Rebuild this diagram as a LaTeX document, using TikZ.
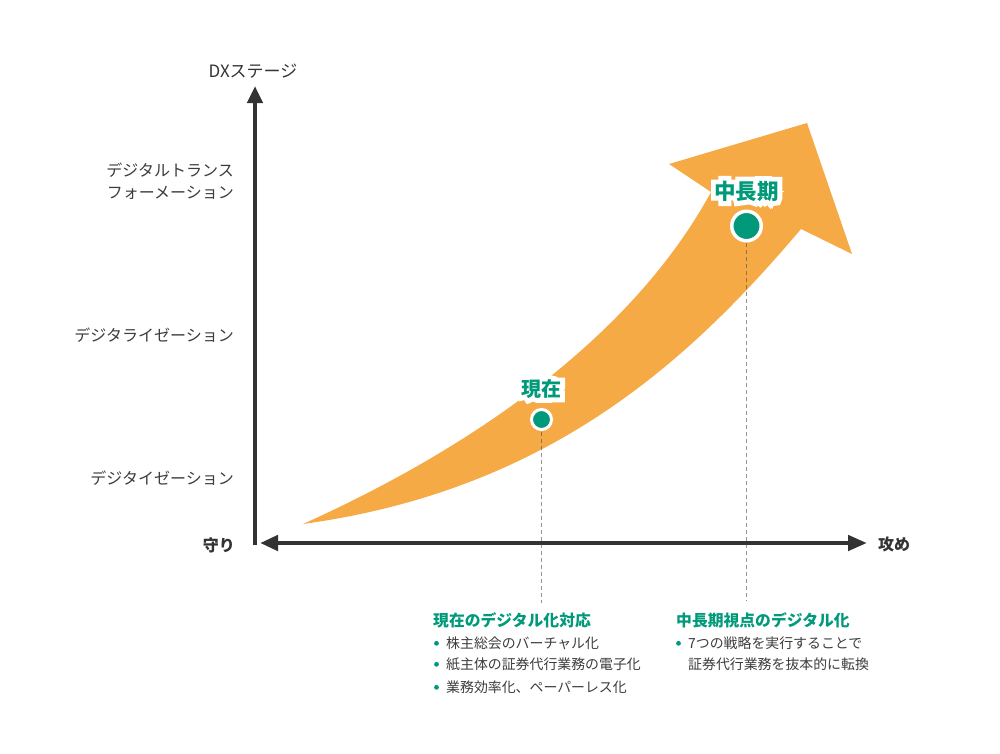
\documentclass[tikz,border=0pt]{standalone}
\usepackage{fontspec}
\setmainfont{Noto Sans CJK JP}
\newfontfamily\halofont{Noto Sans CJK JP}[FakeBold=45]
\usetikzlibrary{arrows.meta,calc}
\definecolor{orng}{HTML}{F5AA45}
\definecolor{tealc}{HTML}{00997A}
\definecolor{axisc}{HTML}{333333}
\definecolor{txt}{HTML}{3C3C3C}
\begin{document}
\begin{tikzpicture}[x=1pt,y=-1pt,
  lbl/.style={font=\fontsize{16}{19}\selectfont, text=txt, inner sep=0pt},
  axlbl/.style={font=\fontsize{16}{19}\selectfont\bfseries, text=axisc, inner sep=0pt},
  head/.style={font=\fontsize{15.8}{19}\selectfont\bfseries, text=tealc, inner sep=0pt, anchor=west},
  item/.style={font=\fontsize{13.9}{17}\selectfont, text=txt, inner sep=0pt, anchor=west},
  bul/.style={fill=tealc},
  axisline/.style={draw=axisc, line width=4.5pt},
  guide/.style={draw=black!70, opacity=0.6, line width=1.5pt, dash pattern=on 4pt off 3pt},
  stage/.style={inner sep=0pt, text=tealc, font=\fontsize{#1}{#1}\selectfont\bfseries},
  halo/.style={inner sep=0pt, text=white, font=\fontsize{#1}{#1}\selectfont\halofont\bfseries}
]
\useasboundingbox (0,0) rectangle (1000,753);

% big orange arrow
\fill[orng] (303,524) .. controls (485,442) and (636,330) .. (711,192)
  -- (669,164) -- (807,123) -- (852,254) -- (801,229)
  .. controls (690,360) and (550,490) .. (303,524) -- cycle;

% axes
\coordinate (O) at (255,545);
\coordinate (ytip) at (255,86);
\coordinate (xl) at (260,543);
\coordinate (xr) at (867,543);
\draw[axisline, -{Triangle[length=17pt,width=15pt]}] (O) -- (ytip);
\draw[axisline, {Triangle[length=18pt,width=15pt]}-{Triangle[length=19pt,width=15pt]}] (xl) -- (xr);

% axis labels
\node[lbl, font=\fontsize{17}{19}\selectfont, text=axisc] (dxs) at (253,71) {DXステージ};
\node[axlbl, anchor=east] (mamori) at (235,545) {守り};
\node[axlbl, anchor=west] (seme) at (878,544) {攻め};
\node[lbl, anchor=east] (dt1) at (234,170) {デジタルトランス};
\node[lbl, anchor=east] (dt2) at (234,193) {フォーメーション};
\node[lbl, anchor=east] (dl) at (234,335) {デジタライゼーション};
\node[lbl, anchor=east] (di) at (234,478) {デジタイゼーション};

% points
\coordinate (p1) at (541.5,419.5);
\coordinate (p2) at (746.5,226);
\coordinate (p1b) at (541.5,603);
\coordinate (p2b) at (746.5,601);
\draw[guide] ($(p1)+(0,12)$) -- (p1b);
\draw[guide] ($(p2)+(0,17)$) -- (p2b);
\filldraw[fill=tealc, draw=white, line width=3pt] (p1) circle (10);
\filldraw[fill=tealc, draw=white, line width=3.5pt] (p2) circle (14.75);

% haloed labels
\node[halo=20] (nowh) at (541.5,389) {現在};
\node[stage=20] (now) at (541.5,389) {現在};
\node[halo=21.5] (midh) at (746.5,191) {中長期};
\node[stage=21.5] (mid) at (746.5,191) {中長期};

% bottom texts
\node[head] (h1) at (433,620.5) {現在のデジタル化対応};
\fill[bul] (436.5,643.3) circle (2.4);
\node[item] (a1) at (446,643) {株主総会のバーチャル化};
\fill[bul] (436.5,664.3) circle (2.4);
\node[item] (a2) at (446,664.5) {紙主体の証券代行業務の電子化};
\fill[bul] (436.5,687.3) circle (2.4);
\node[item] (a3) at (446,687) {業務効率化、ペーパーレス化};

\node[head] (h2) at (676,620.5) {中長期視点のデジタル化};
\fill[bul] (678.5,643.3) circle (2.4);
\node[item] (b1) at (688,643) {7つの戦略を実行することで};
\node[item] (b2) at (688,664.5) {証券代行業務を抜本的に転換};
\end{tikzpicture}
\end{document}
